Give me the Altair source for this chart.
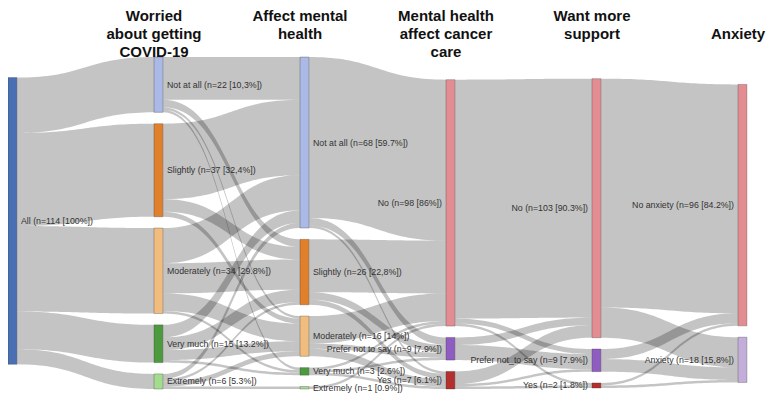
import numpy as np
import pandas as pd
import altair as alt

# ---------------- data ----------------
stage_titles = ["", "Worried\nabout getting\nCOVID-19", "Affect mental\nhealth",
                "Mental health\naffect cancer\ncare", "Want more\nsupport", "\nAnxiety"]

all_counts = [114]
all_labels = ["All (n=114 [100%])"]

worried_counts = [22, 37, 34, 15, 6]
worried_labels = ["Not at all (n=22 [10,3%])", "Slightly (n=37 [32,4%])",
                  "Moderately (n=34 [29.8%])", "Very much (n=15 [13.2%])",
                  "Extremely (n=6 [5.3%])"]

mental_counts = [68, 26, 16, 3, 1]
mental_labels = ["Not at all (n=68 [59.7%])", "Slightly (n=26 [22,8%])",
                 "Moderately (n=16 [14%])", "Very much (n=3 [2.6%])",
                 "Extremely (n=1 [0.9%])"]

care_counts = [98, 9, 7]
care_labels = ["No (n=98 [86%])", "Prefer not to say (n=9 [7.9%])", "Yes (n=7 [6.1%])"]

support_counts = [103, 9, 2]
support_labels = ["No (n=103 [90.3%])", "Prefer not_to say (n=9 [7.9%])", "Yes (n=2 [1.8%])"]

anxiety_counts = [96, 18]
anxiety_labels = ["No anxiety (n=96 [84.2%])", "Anxiety (n=18 [15,8%])"]

# flows between consecutive stages (rows = source node, cols = target node)
flow_all_worried = [[22, 37, 34, 15, 6]]
flow_worried_mental = [[17, 3, 1, 1, 0],
                       [30, 5, 2, 0, 0],
                       [14, 12, 7, 1, 0],
                       [5, 5, 4, 1, 0],
                       [2, 1, 2, 0, 1]]
flow_mental_care = [[64, 3, 1],
                    [21, 3, 2],
                    [11, 2, 3],
                    [1, 1, 1],
                    [1, 0, 0]]
flow_care_support = [[95, 2, 1],
                     [3, 6, 0],
                     [5, 1, 1]]
flow_support_anxiety = [[91, 12],
                        [4, 5],
                        [1, 1]]

# ---------------- styles / layout ----------------
five_colors = ["#aab9e6", "#e07f2c", "#f0bd7e", "#4c9a3e", "#a4dc8e"]
three_colors = ["#e38c91", "#8f5cc2", "#b3302e"]
stage_colors = [["#4a6fb3"], five_colors, five_colors, three_colors, three_colors,
                ["#e38c91", "#c2aed8"]]

stage_counts = [all_counts, worried_counts, mental_counts, care_counts,
                support_counts, anxiety_counts]
stage_labels = [all_labels, worried_labels, mental_labels, care_labels,
                support_labels, anxiety_labels]
flows = [flow_all_worried, flow_worried_mental, flow_mental_care,
         flow_care_support, flow_support_anxiety]

NODE_W = 0.061          # node width, in stage units
PAD = 4.5               # vertical gap between nodes, in count units
STAGE_TOP = [8.2, 0, 0, 9.0, 8.6, 10.9]
LEFT_LABEL_STAGES = {3, 4, 5}
TOTAL = 114 + 4 * PAD

# ---------------- build tables ----------------
node_top = []
node_rows = []
for st in range(6):
    tops = []
    y = STAGE_TOP[st]
    for k, c in enumerate(stage_counts[st]):
        tops.append(y)
        node_rows.append(dict(stage=st, nx0=st, nx1=st + NODE_W, ntop=y, nbot=y + c,
                              nmid=y + c / 2, ncolor=stage_colors[st][k],
                              label=stage_labels[st][k],
                              side="left" if st in LEFT_LABEL_STAGES else "right"))
        y += c + PAD
    node_top.append(tops)
nodes = pd.DataFrame(node_rows)

S = np.linspace(0, 1, 41)
link_rows = []
lid = 0
for st, F in enumerate(flows):
    src_pos = {}
    for i, row in enumerate(F):
        off = 0
        for j, v in enumerate(row):
            if v > 0:
                src_pos[(i, j)] = node_top[st][i] + off
                off += v
    tgt_pos = {}
    for j in range(len(F[0])):
        off = 0
        for i in range(len(F)):
            v = F[i][j]
            if v > 0:
                tgt_pos[(i, j)] = node_top[st + 1][j] + off
                off += v
    x0 = st + NODE_W
    x1 = st + 1
    xm = (x0 + x1) / 2
    for (i, j), y0 in src_pos.items():
        y1 = tgt_pos[(i, j)]
        v = F[i][j]
        bx = (1 - S) ** 3 * x0 + 3 * (1 - S) ** 2 * S * xm + 3 * (1 - S) * S ** 2 * xm + S ** 3 * x1
        by = ((1 - S) ** 3 + 3 * (1 - S) ** 2 * S) * y0 + (3 * (1 - S) * S ** 2 + S ** 3) * y1
        for k in range(len(S)):
            link_rows.append(dict(lname=f"L{lid}", lx=float(bx[k]),
                                  ltop=float(by[k]), lbot=float(by[k] + v)))
        lid += 1
links = pd.DataFrame(link_rows)

titles = pd.DataFrame(dict(tx=[float(st) for st in range(6)], title=stage_titles))

# ---------------- chart ----------------
xs = alt.Scale(domain=[0, 5], range=[0, 730], nice=False, zero=False)
ys = alt.Scale(domain=[0, TOTAL], range=[49, 381], nice=False, zero=False)
FONT = "Liberation Sans"

link_layer = alt.Chart(links).mark_area(color="#000000", opacity=0.23, interpolate="linear",
                                        orient="vertical").encode(
    x=alt.X("lx:Q", scale=xs, axis=None),
    y=alt.Y("ltop:Q", scale=ys, axis=None),
    y2="lbot:Q",
    detail="lname:N",
)

node_layer = alt.Chart(nodes).mark_rect(stroke="#333333", strokeWidth=0.6, strokeOpacity=0.5).encode(
    x=alt.X("nx0:Q", scale=xs, axis=None),
    x2="nx1:Q",
    y=alt.Y("ntop:Q", scale=ys, axis=None),
    y2="nbot:Q",
    fill=alt.Fill("ncolor:N", scale=None),
)

right_labels = alt.Chart(nodes).transform_filter(alt.datum.side == "right").mark_text(
    align="left", baseline="middle", dx=4, font=FONT, fontSize=8.8, color="#333333"
).encode(
    x=alt.X("nx1:Q", scale=xs, axis=None),
    y=alt.Y("nmid:Q", scale=ys, axis=None),
    text="label:N",
)

left_labels = alt.Chart(nodes).transform_filter(alt.datum.side == "left").mark_text(
    align="right", baseline="middle", dx=-4, font=FONT, fontSize=8.8, color="#333333"
).encode(
    x=alt.X("nx0:Q", scale=xs, axis=None),
    y=alt.Y("nmid:Q", scale=ys, axis=None),
    text="label:N",
)

title_layer = alt.Chart(titles).mark_text(
    align="center", baseline="top", lineBreak="\n", lineHeight=18,
    font=FONT, fontSize=15, fontWeight="bold", color="#111111"
).encode(
    x=alt.X("tx:Q", scale=xs, axis=None),
    y=alt.value(1),
    text="title:N",
)

chart = alt.layer(link_layer, node_layer, right_labels, left_labels, title_layer).properties(
    width=762, height=385, padding=0,
    autosize=alt.AutoSizeParams(type="none"),
).configure_view(stroke=None)

chart.save("out.html", embed_options={"renderer": "svg", "actions": False})
